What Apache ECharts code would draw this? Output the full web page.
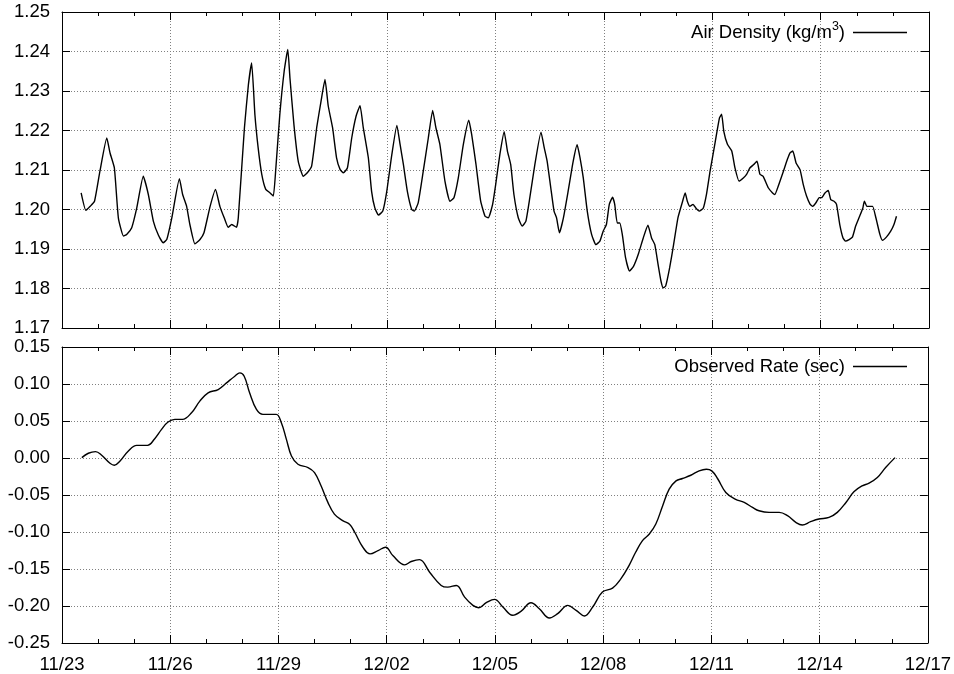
<!DOCTYPE html>
<html>
<head>
<meta charset="utf-8">
<script src="https://cdn.jsdelivr.net/npm/echarts@6/dist/echarts.min.js"></script>
<style>
html,body{margin:0;padding:0;background:#fff;}
#chart{width:954px;height:674px;}
</style>
</head>
<body>
<div id="chart"></div>
<script>
// x tick labels (every 3 days starting 11/23)
const xTickLabels = ['11/23','11/26','11/29','12/02','12/05','12/08','12/11','12/14','12/17'];

// Air density: day offset from 11/23 00:00, value kg/m^3
const densityDays = [0.53,0.66,0.78,0.90,1.05,1.24,1.33,1.45,1.56,1.70,1.79,1.93,2.07,2.25,2.39,2.53,2.67,2.80,2.90,3.04,3.25,3.34,3.45,3.54,3.68,3.82,3.93,4.10,4.25,4.37,4.49,4.60,4.70,4.83,4.88,5.05,5.16,5.25,5.34,5.43,5.53,5.64,5.76,5.85,5.92,6.03,6.15,6.25,6.31,6.42,6.54,6.68,6.79,6.91,7.05,7.17,7.28,7.37,7.49,7.60,7.70,7.79,7.90,8.02,8.14,8.25,8.34,8.48,8.57,8.66,8.76,8.88,8.99,9.13,9.27,9.36,9.45,9.56,9.68,9.75,9.86,10.00,10.14,10.26,10.35,10.46,10.60,10.74,10.85,10.97,11.11,11.26,11.34,11.46,11.59,11.71,11.80,11.92,12.00,12.12,12.24,12.33,12.42,12.51,12.63,12.74,12.84,12.95,13.09,13.26,13.35,13.43,13.53,13.62,13.69,13.77,13.88,14.01,14.15,14.26,14.34,14.43,14.54,14.66,14.78,14.89,14.98,15.07,15.15,15.24,15.30,15.37,15.44,15.51,15.60,15.71,15.82,15.95,16.09,16.22,16.32,16.41,16.50,16.58,16.64,16.71,16.82,16.93,17.05,17.18,17.25,17.31,17.38,17.47,17.55,17.64,17.75,17.84,17.94,18.08,18.20,18.26,18.32,18.42,18.54,18.63,18.74,18.86,18.95,19.04,19.15,19.24,19.32,19.41,19.55,19.67,19.73,19.86,19.97,20.08,20.15,20.23,20.32,20.43,20.52,20.61,20.71,20.78,20.87,20.96,21.03,21.12,21.21,21.28,21.37,21.44,21.53,21.62,21.69,21.79,21.88,21.97,22.08,22.17,22.21,22.28,22.37,22.44,22.53,22.64,22.71,22.82,22.94,23.03,23.10];
const densityValues = [1.2042,1.1998,1.2008,1.2021,1.2097,1.2181,1.2143,1.2105,1.1979,1.1933,1.1937,1.1954,1.2004,1.2084,1.2038,1.1970,1.1935,1.1916,1.1924,1.1979,1.2078,1.2038,1.2008,1.1962,1.1913,1.1924,1.1941,1.2008,1.2051,1.2008,1.1979,1.1955,1.1962,1.1955,1.1979,1.2207,1.2316,1.2371,1.2240,1.2156,1.2089,1.2051,1.2042,1.2034,1.2105,1.2241,1.2350,1.2405,1.2333,1.2215,1.2122,1.2084,1.2093,1.2110,1.2207,1.2274,1.2329,1.2262,1.2207,1.2131,1.2101,1.2093,1.2105,1.2181,1.2236,1.2263,1.2207,1.2131,1.2046,1.2004,1.1986,1.1996,1.2046,1.2139,1.2213,1.2164,1.2114,1.2046,1.2000,1.1996,1.2017,1.2097,1.2181,1.2251,1.2207,1.2165,1.2072,1.2021,1.2030,1.2080,1.2165,1.2226,1.2190,1.2114,1.2021,1.1983,1.1979,1.2013,1.2060,1.2139,1.2197,1.2148,1.2114,1.2038,1.1979,1.1958,1.1970,1.2030,1.2114,1.2196,1.2156,1.2122,1.2055,1.1996,1.1979,1.1941,1.1979,1.2046,1.2122,1.2164,1.2131,1.2080,1.1996,1.1937,1.1911,1.1920,1.1945,1.1962,1.2013,1.2031,1.2013,1.1966,1.1966,1.1937,1.1878,1.1844,1.1856,1.1886,1.1928,1.1960,1.1928,1.1911,1.1861,1.1819,1.1802,1.1806,1.1852,1.1911,1.1979,1.2021,1.2042,1.2021,1.2008,1.2013,1.2003,1.1996,1.2003,1.2038,1.2097,1.2170,1.2232,1.2241,1.2198,1.2165,1.2148,1.2105,1.2072,1.2080,1.2089,1.2105,1.2114,1.2122,1.2089,1.2084,1.2055,1.2042,1.2038,1.2068,1.2097,1.2127,1.2143,1.2148,1.2118,1.2101,1.2063,1.2034,1.2013,1.2008,1.2017,1.2030,1.2030,1.2042,1.2048,1.2025,1.2021,1.2013,1.1962,1.1928,1.1920,1.1924,1.1930,1.1958,1.1983,1.2004,1.2021,1.2008,1.2008,1.2008,1.1979,1.1937,1.1922,1.1930,1.1945,1.1962,1.1983];

// Observed rate: day offset from 11/23 00:00, value sec
const rateDays = [0.55,0.73,0.93,1.10,1.33,1.45,1.61,1.84,2.07,2.21,2.37,2.57,2.76,2.94,3.13,3.34,3.59,3.82,4.05,4.33,4.56,4.79,4.93,5.05,5.20,5.39,5.57,5.76,5.94,6.08,6.22,6.36,6.54,6.82,7.00,7.18,7.37,7.55,7.78,7.97,8.11,8.34,8.54,8.76,8.97,9.17,9.50,9.68,9.91,10.19,10.51,10.69,10.93,11.16,11.39,11.55,11.76,11.99,12.22,12.49,12.72,13.00,13.23,13.51,13.74,14.02,14.25,14.48,14.71,14.98,15.26,15.49,15.72,15.90,16.09,16.28,16.46,16.65,16.83,17.02,17.20,17.43,17.66,17.86,18.01,18.17,18.40,18.66,18.91,19.14,19.32,19.60,19.88,20.11,20.34,20.52,20.75,20.98,21.26,21.49,21.73,21.95,22.18,22.37,22.60,22.83,23.09];
const rateValues = [0.0005,0.0064,0.0086,0.0037,-0.0071,-0.0098,-0.0040,0.0095,0.0171,0.0171,0.0171,0.0261,0.0387,0.0486,0.0522,0.0522,0.0611,0.0768,0.0881,0.0925,0.1015,0.1105,0.1150,0.1105,0.0881,0.0656,0.0589,0.0589,0.0589,0.0477,0.0252,0.0028,-0.0084,-0.0129,-0.0197,-0.0376,-0.0600,-0.0758,-0.0847,-0.0895,-0.1000,-0.1206,-0.1296,-0.1251,-0.1206,-0.1319,-0.1444,-0.1399,-0.1373,-0.1543,-0.1722,-0.1745,-0.1722,-0.1880,-0.1992,-0.2023,-0.1956,-0.1911,-0.2014,-0.2126,-0.2073,-0.1956,-0.2037,-0.2162,-0.2103,-0.1992,-0.2059,-0.2135,-0.2014,-0.1812,-0.1758,-0.1633,-0.1450,-0.1274,-0.1117,-0.1027,-0.0892,-0.0645,-0.0421,-0.0309,-0.0277,-0.0233,-0.0174,-0.0152,-0.0174,-0.0277,-0.0466,-0.0556,-0.0601,-0.0668,-0.0713,-0.0735,-0.0735,-0.0780,-0.0870,-0.0906,-0.0861,-0.0825,-0.0803,-0.0735,-0.0601,-0.0457,-0.0376,-0.0340,-0.0264,-0.0129,0.0005];

function pairs(xs, ys) { return xs.map((x, i) => [x, ys[i]]); }

const FONT = '"Liberation Sans", Arial, Helvetica, sans-serif';
const FS = 18.5;
const gridLine = { show: true, lineStyle: { color: '#808080', type: [1, 2], width: 1 } };

function xAx(gridIndex, position, showLabels, showGrid) {
  return {
    type: 'value', gridIndex: gridIndex, position: position,
    min: 0, max: 24, interval: 3,
    axisLine: { show: true, onZero: false, lineStyle: { color: '#000', width: 1 } },
    axisTick: { show: true, inside: true, length: 8, lineStyle: { color: '#000' } },
    minorTick: { show: true, splitNumber: 3, length: 4, lineStyle: { color: '#000' } },
    axisLabel: { show: showLabels, margin: 12, color: '#000', fontSize: FS, fontFamily: FONT,
      formatter: function (v) { return xTickLabels[Math.round(v / 3)]; } },
    splitLine: showGrid ? gridLine : { show: false }
  };
}
function yAx(gridIndex, position, min, max, interval, showLabels) {
  return {
    type: 'value', gridIndex: gridIndex, position: position,
    min: min, max: max, interval: interval,
    axisLine: { show: true, onZero: false, lineStyle: { color: '#000', width: 1 } },
    axisTick: { show: true, inside: true, length: 8, lineStyle: { color: '#000' } },
    axisLabel: { show: showLabels, margin: 12, color: '#000', fontSize: FS, fontFamily: FONT,
      formatter: function (v) { return v.toFixed(2); } },
    splitLine: showLabels ? gridLine : { show: false }
  };
}

const chart = echarts.init(document.getElementById('chart'), null, { renderer: 'canvas' });
chart.setOption({
  animation: false,
  backgroundColor: '#fff',
  textStyle: { fontFamily: FONT, color: '#000' },
  grid: [
    { left: 62, right: 25, top: 12, height: 316 },
    { left: 62, right: 25, top: 347, height: 297 }
  ],
  xAxis: [
    xAx(0, 'bottom', false, true),
    xAx(0, 'top', false, false),
    xAx(1, 'bottom', true, true),
    xAx(1, 'top', false, false)
  ],
  yAxis: [
    yAx(0, 'left', 1.17, 1.25, 0.01, true),
    yAx(0, 'right', 1.17, 1.25, 0.01, false),
    yAx(1, 'left', -0.25, 0.15, 0.05, true),
    yAx(1, 'right', -0.25, 0.15, 0.05, false)
  ],
  legend: [
    { data: ['Air Density'], right: 47, top: 20, align: 'right', padding: 0,
      icon: 'rect', itemWidth: 54, itemHeight: 1.3,
      formatter: function () { return 'Air Density (kg/m{sup|3})'; },
      textStyle: { fontSize: FS, color: '#000', fontFamily: FONT, padding: [0, 3, 0, 0],
        rich: { sup: { fontSize: 12.5, fontFamily: FONT, color: '#000', padding: [0, 0, 12, 0] } } } },
    { data: ['Observed Rate'], right: 47, top: 357, align: 'right', padding: 0,
      icon: 'rect', itemWidth: 54, itemHeight: 1.3,
      formatter: function () { return 'Observed Rate (sec)'; },
      textStyle: { fontSize: FS, color: '#000', fontFamily: FONT, padding: [0, 3, 0, 0] } }
  ],
  series: [
    { type: 'line', name: 'Air Density', xAxisIndex: 0, yAxisIndex: 0,
      data: pairs(densityDays, densityValues), symbol: 'none', smooth: 0.15,
      lineStyle: { color: '#000', width: 1.4 }, itemStyle: { color: '#000' } },
    { type: 'line', name: 'Observed Rate', xAxisIndex: 2, yAxisIndex: 2,
      data: pairs(rateDays, rateValues), symbol: 'none', smooth: 0.4,
      lineStyle: { color: '#000', width: 1.4 }, itemStyle: { color: '#000' } }
  ]
});
</script>
</body>
</html>
